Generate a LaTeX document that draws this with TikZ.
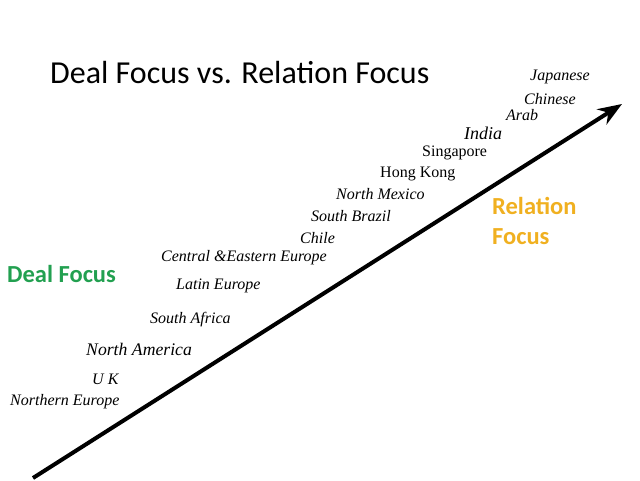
\documentclass[tikz,border=0pt]{standalone}
\usepackage{fontspec}
\setmainfont{Liberation Serif}
\newfontfamily\calibri{Carlito}
\definecolor{dealgreen}{RGB}{34,160,80}
\definecolor{relorange}{RGB}{240,176,32}
\usetikzlibrary{arrows.meta,positioning}

\begin{document}
\begin{tikzpicture}[x=1pt,y=-1pt,country/.style={anchor=west,inner sep=0pt,font=\itshape\fontsize{16}{18}\selectfont},upright/.style={anchor=west,inner sep=0pt,font=\fontsize{16}{18}\selectfont},focus/.style={anchor=west,inner sep=0pt,align=left,font=\calibri\bfseries\fontsize{24.5}{30}\selectfont}]

	\useasboundingbox (0,0) rectangle (640,480);

	\node[anchor=west,inner sep=0pt,font=\calibri\fontsize{32}{38}\selectfont] (title) at (50,73) {Deal Focus vs. Relation Focus};

	\coordinate (start) at (33,478);
	\coordinate (end) at (622,104);
	\draw[-{Stealth[length=24pt,width=18pt]},line width=4pt] (start) -- (end);

	\node[country] (jp) at (530,77) {Japanese};
	\node[country] (cn) at (524,99) {Chinese};
	\node[country] (ar) at (506,115) {Arab};
	\node[country,font=\itshape\fontsize{18}{20}\selectfont] (in) at (464,133) {India};
	\node[upright] (sg) at (422,153) {Singapore};
	\node[upright] (hk) at (380,174) {Hong Kong};
	\node[country] (mx) at (336,194) {North Mexico};
	\node[country] (br) at (311,216) {South Brazil};
	\node[country] (cl) at (300,238) {Chile};
	\node[country] (ce) at (161,258) {Central \&Eastern Europe};
	\node[country] (le) at (176,286) {Latin Europe};
	\node[country] (sa) at (150,320) {South Africa};
	\node[country,font=\itshape\fontsize{17.7}{20}\selectfont] (na) at (86,349) {North America};
	\node[country] (uk) at (92,379) {U K};
	\node[country] (ne) at (10,402) {Northern Europe};

	\node[focus,text=dealgreen] (deal) at (7,274) {Deal Focus};
	\node[focus,text=relorange] (rel) at (492,221) {Relation\\Focus};
\end{tikzpicture}
\end{document}
